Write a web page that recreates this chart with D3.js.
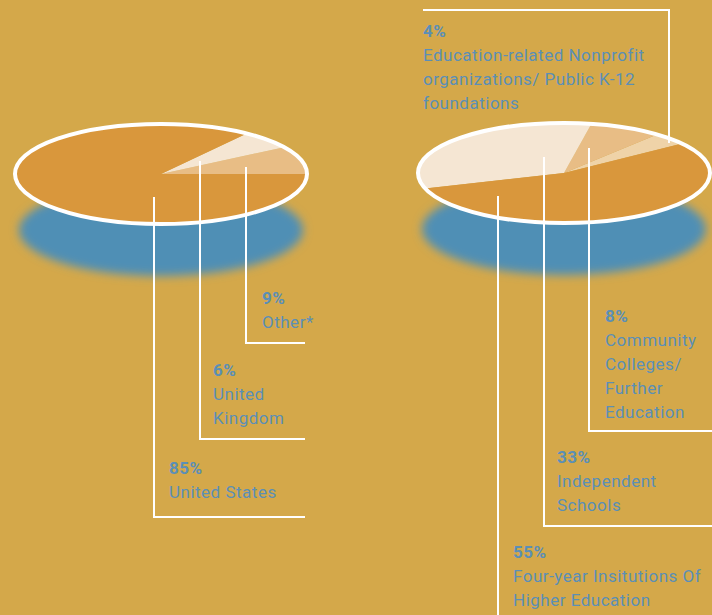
<!DOCTYPE html>
<html>
<head>
<meta charset="utf-8">
<script src="https://cdn.jsdelivr.net/npm/d3@7"></script>
<style>
  html, body { margin: 0; padding: 0; background: #d4a84a; }
  svg { display: block; }
  text { font-family: Roboto, "DejaVu Sans", sans-serif; font-size: 17px; letter-spacing: 0.5px; fill: #5b8fb6; }
  .pct { font-weight: bold; }
</style>
</head>
<body>
<script>
// left pie: regions (order counter-clockwise from 3 o'clock)
var regionNames = ["Other*", "United Kingdom", "United States"];
var regionValues = [9, 6, 85];
var regionColors = ["#e8bd85", "#f5e6d3", "#d9973c"];
var regionLabels = [["Other*"], ["United", "Kingdom"], ["United States"]];

// right pie: institution types
var instNames = ["Education-related Nonprofit organizations/ Public K-12 foundations",
  "Community Colleges/ Further Education", "Independent Schools",
  "Four-year Insitutions Of Higher Education"];
var instValues = [4, 8, 33, 55];
var instColors = ["#efd3a8", "#e8bd85", "#f5e6d3", "#d9973c"];
var instLabels = [["Education-related Nonprofit", "organizations/ Public K-12", "foundations"],
  ["Community", "Colleges/", "Further", "Education"],
  ["Independent", "Schools"],
  ["Four-year Insitutions Of", "Higher Education"]];

var W = 712, H = 615;
var rx = 146, ry = 50;

var svg = d3.select("body").append("svg")
  .attr("width", W)
  .attr("height", H);

var defs = svg.append("defs");
defs.append("filter")
  .attr("id", "blur")
  .attr("x", "-20%").attr("y", "-40%")
  .attr("width", "140%").attr("height", "180%")
  .append("feGaussianBlur")
  .attr("stdDeviation", 5);

// draws one squashed pie; startDeg is math angle (ccw from +x)
function drawPie(cx, cy, values, colors, startDeg) {
  var g = svg.append("g");

  // blue shadow
  g.append("ellipse")
    .attr("cx", cx).attr("cy", cy + 56)
    .attr("rx", rx - 4).attr("ry", ry - 4)
    .attr("fill", "#508fb5")
    .attr("filter", "url(#blur)");

  var a0 = (90 - startDeg) * Math.PI / 180;
  var pie = d3.pie().sort(null)
    .startAngle(a0)
    .endAngle(a0 - 2 * Math.PI);
  var arc = d3.arc().innerRadius(0).outerRadius(rx);

  g.append("g")
    .attr("transform", "translate(" + cx + "," + cy + ") scale(1," + (ry / rx) + ")")
    .selectAll("path")
    .data(pie(values))
    .enter().append("path")
    .attr("d", arc)
    .attr("fill", function(d, i) { return colors[i]; });

  g.append("ellipse")
    .attr("cx", cx).attr("cy", cy)
    .attr("rx", rx).attr("ry", ry)
    .attr("fill", "none")
    .attr("stroke", "#fff")
    .attr("stroke-width", 4);
}

drawPie(161, 174, regionValues, regionColors, 0);
drawPie(564, 173, instValues, instColors, 36);

// leader lines as polylines
var line = d3.line();
function leader(pts) {
  svg.append("path")
    .attr("d", line(pts))
    .attr("fill", "none")
    .attr("stroke", "#fff")
    .attr("stroke-width", 2);
}

function label(x, y, pct, lines) {
  var t = svg.append("g");
  t.append("text").attr("class", "pct").attr("x", x).attr("y", y).text(pct + "%");
  lines.forEach(function(s, i) {
    t.append("text").attr("x", x).attr("y", y + 24 * (i + 1)).text(s);
  });
}

// left pie labels
leader([[246, 167], [246, 343], [305, 343]]);
label(262, 304, regionValues[0], regionLabels[0]);
leader([[200, 161], [200, 439], [305, 439]]);
label(213, 376, regionValues[1], regionLabels[1]);
leader([[154, 197], [154, 517], [305, 517]]);
label(169, 474, regionValues[2], regionLabels[2]);

// right pie labels
leader([[423, 10], [669, 10], [669, 143]]);
label(423, 37, instValues[0], instLabels[0]);
leader([[589, 148], [589, 431], [712, 431]]);
label(605, 322, instValues[1], instLabels[1]);
leader([[544, 157], [544, 526], [712, 526]]);
label(557, 463, instValues[2], instLabels[2]);
leader([[498, 196], [498, 615]]);
label(513, 558, instValues[3], instLabels[3]);
</script>
</body>
</html>
